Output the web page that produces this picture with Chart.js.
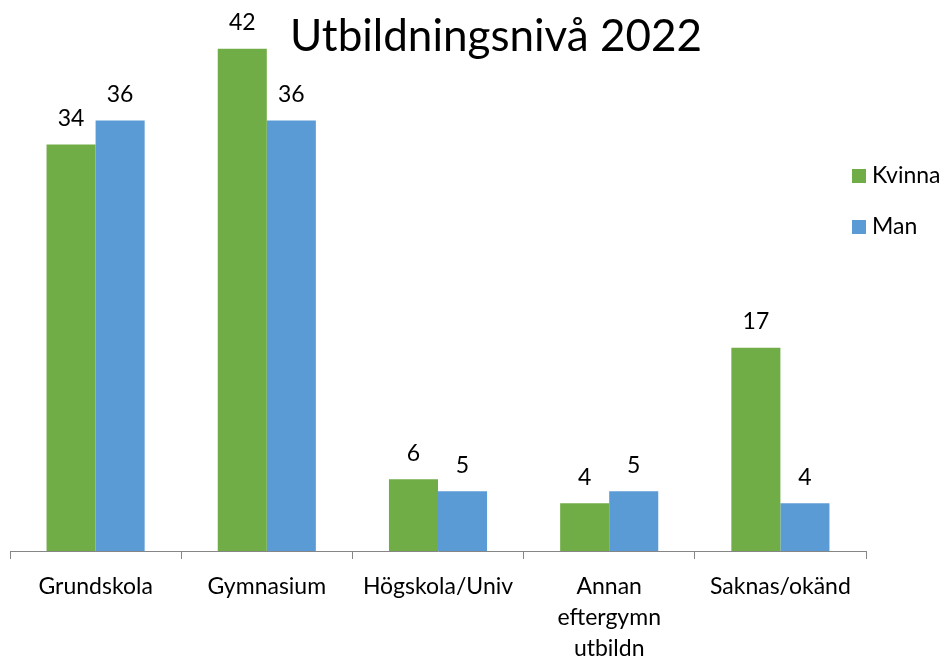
<!doctype html>
<html lang="sv">
<head>
    <meta charset="utf-8">
    <title>Utbildningsnivå 2022</title>
    <style>
        * { margin: 0; padding: 0; }
        body { background: #fff; }
        .chartBox { width: 949px; height: 664px; }
    </style>
</head>
<body>
<div class="chartBox">
    <canvas id="myChart"></canvas>
</div>
<script src="https://cdn.jsdelivr.net/npm/chart.js"></script>
<script>
    // data
    const categories = ['Grundskola', 'Gymnasium', 'Högskola/Univ', ['Annan', 'eftergymn', 'utbildn'], 'Saknas/okänd'];
    const kvinna = [34, 42, 6, 4, 17];
    const man = [36, 36, 5, 5, 4];
    const seriesNames = ['Kvinna', 'Man'];
    const colors = ['#70AD47', '#5B9BD5'];
    const titleText = 'Utbildningsnivå 2022';
    const font = 'Lato, "Open Sans", sans-serif';

    // value labels above bars
    const barLabels = {
        id: 'barLabels',
        afterDatasetsDraw(chart) {
            const {ctx} = chart;
            ctx.save();
            ctx.font = '23px ' + font;
            ctx.fillStyle = '#000';
            ctx.textAlign = 'center';
            ctx.textBaseline = 'middle';
            chart.data.datasets.forEach((ds, i) => {
                chart.getDatasetMeta(i).data.forEach((bar, j) => {
                    ctx.fillText(ds.data[j], bar.x, bar.y - 26);
                });
            });
            ctx.restore();
        }
    };

    // title drawn over the plot, like the original
    const bigTitle = {
        id: 'bigTitle',
        afterDraw(chart) {
            const {ctx} = chart;
            ctx.save();
            ctx.font = '44px ' + font;
            ctx.fillStyle = '#000';
            ctx.textAlign = 'center';
            ctx.textBaseline = 'middle';
            ctx.fillText(titleText, 496, 37);
            ctx.restore();
        }
    };

    // legend on the right
    const sideLegend = {
        id: 'sideLegend',
        afterDraw(chart) {
            const {ctx} = chart;
            ctx.save();
            ctx.font = '23px ' + font;
            ctx.textBaseline = 'middle';
            ctx.textAlign = 'left';
            seriesNames.forEach((name, i) => {
                const cy = 176 + i * 51;
                ctx.fillStyle = colors[i];
                ctx.fillRect(852, cy - 7, 14, 14);
                ctx.fillStyle = '#000';
                ctx.fillText(name, 872, cy);
            });
            ctx.restore();
        }
    };

    const data = {
        labels: categories,
        datasets: [{
            label: seriesNames[0],
            data: kvinna,
            backgroundColor: colors[0]
        }, {
            label: seriesNames[1],
            data: man,
            backgroundColor: colors[1]
        }]
    };

    const config = {
        type: 'bar',
        data,
        options: {
            responsive: true,
            maintainAspectRatio: false,
            animation: false,
            layout: {
                padding: {left: 10, right: 83, top: 13, bottom: 0}
            },
            datasets: {
                bar: {
                    categoryPercentage: 0.573,
                    barPercentage: 1
                }
            },
            plugins: {
                legend: {display: false},
                title: {display: false},
                tooltip: {enabled: false}
            },
            scales: {
                x: {
                    border: {display: true, color: '#868686', width: 1},
                    grid: {
                        display: true,
                        drawOnChartArea: false,
                        drawTicks: true,
                        tickLength: 8,
                        color: '#868686',
                        offset: true
                    },
                    ticks: {
                        color: '#000',
                        padding: 12,
                        maxRotation: 0,
                        autoSkip: false,
                        font: {family: font, size: 23, lineHeight: 1.35}
                    },
                    afterFit(scale) {
                        scale.height = 113;
                    }
                },
                y: {
                    display: false,
                    min: 0,
                    max: 45
                }
            }
        },
        plugins: [barLabels, bigTitle, sideLegend]
    };

    const myChart = new Chart(document.getElementById('myChart'), config);
</script>
</body>
</html>
